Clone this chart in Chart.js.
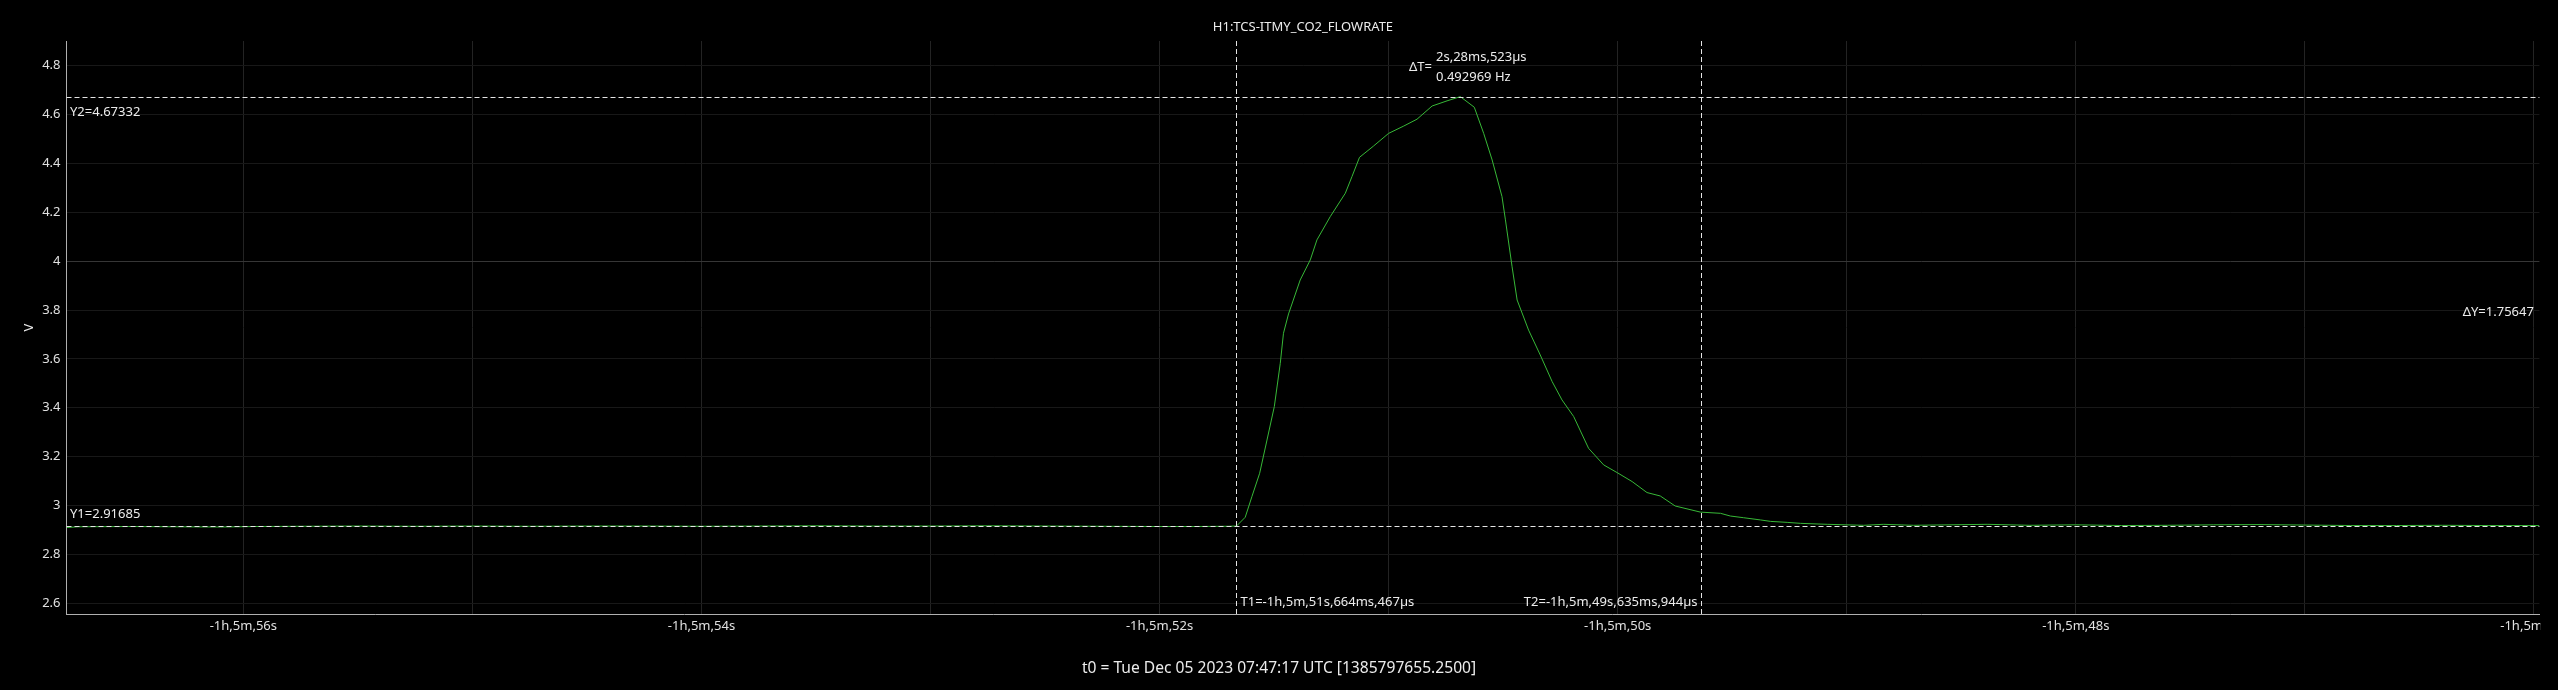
<!DOCTYPE html>
<html>
<head>
<meta charset="utf-8">
<script src="https://cdn.jsdelivr.net/npm/chart.js@4.4.0/dist/chart.umd.min.js"></script>
<style>
    html, body { margin: 0; padding: 0; background: #000; }
    #wrap { width: 2558px; height: 690px; }
</style>
</head>
<body>
<div id="wrap"><canvas id="flowrate"></canvas></div>
<script>
const channel = 'H1:TCS-ITMY_CO2_FLOWRATE';
const footer = 't0 = Tue Dec 05 2023 07:47:17 UTC [1385797655.2500]';
const yUnit = 'V';

// seconds after -1h,5m (so -56 means -1h,5m,56s)
const times = [
    -56.77, -56.72, -56.50, -56.30, -56.10, -55.95, -55.75, -55.50, -55.25, -55.00,
    -54.75, -54.50, -54.25, -54.00, -53.75, -53.50, -53.25, -53.00, -52.75, -52.50,
    -52.25, -52.00, -51.85, -51.70, -51.664, -51.626, -51.597, -51.563, -51.531, -51.499,
    -51.473, -51.459, -51.437, -51.386, -51.342, -51.313, -51.255, -51.189, -51.160, -51.127,
    -51.066, -51.000, -50.934, -50.876, -50.810, -50.745, -50.687, -50.626, -50.585, -50.548,
    -50.505, -50.490, -50.461, -50.439, -50.389, -50.338, -50.286, -50.243, -50.192, -50.127,
    -50.061, -50.003, -49.937, -49.872, -49.814, -49.749, -49.639, -49.551, -49.508, -49.450,
    -49.377, -49.332, -49.260, -49.202, -49.085, -48.926, -48.840, -48.709, -48.387, -48.200,
    -48.000, -47.800, -47.600, -47.400, -47.200, -47.000, -46.800, -46.600, -46.400, -46.200,
    -45.976
];
const values = [
    2.910, 2.913, 2.914, 2.913, 2.912, 2.914, 2.915, 2.916, 2.915, 2.916,
    2.915, 2.916, 2.916, 2.915, 2.916, 2.917, 2.916, 2.916, 2.917, 2.916,
    2.915, 2.914, 2.914, 2.915, 2.916, 2.952, 3.036, 3.132, 3.268, 3.405,
    3.582, 3.705, 3.784, 3.923, 4.005, 4.087, 4.182, 4.278, 4.346, 4.425,
    4.471, 4.523, 4.553, 4.581, 4.635, 4.656, 4.6733, 4.630, 4.523, 4.414,
    4.264, 4.169, 3.977, 3.841, 3.718, 3.616, 3.507, 3.432, 3.364, 3.234,
    3.166, 3.135, 3.098, 3.053, 3.039, 2.998, 2.973, 2.968, 2.957, 2.950,
    2.941, 2.935, 2.931, 2.927, 2.923, 2.919, 2.923, 2.919, 2.923, 2.919,
    2.921, 2.918, 2.919, 2.921, 2.922, 2.920, 2.918, 2.918, 2.919, 2.918,
    2.918
];

const xRange = [-56.772, -45.976];
const yRange = [2.556, 4.901];

// cursors
const t1 = -51.664467;
const t2 = -49.635944;
const y1 = 2.91685;
const y2 = 4.67332;
const t1Label = 'T1=-1h,5m,51s,664ms,467µs';
const t2Label = 'T2=-1h,5m,49s,635ms,944µs';
const y1Label = 'Y1=2.91685';
const y2Label = 'Y2=4.67332';
const dyLabel = 'ΔY=1.75647';
const dtLabel = ['2s,28ms,523µs', '0.492969 Hz'];

const font13 = "13px 'Noto Sans', sans-serif";

const cursors = {
    id: 'cursors',
    beforeDraw: (chart) => {
        const ctx = chart.ctx;
        ctx.save();
        ctx.fillStyle = '#000';
        ctx.fillRect(0, 0, chart.width, chart.height);
        ctx.restore();
    },
    afterDraw: (chart) => {
        const ctx = chart.ctx;
        const area = chart.chartArea;
        const sx = chart.scales.x;
        const sy = chart.scales.y;

        ctx.save();
        // tick labels are cut at the plot edge
        ctx.fillStyle = '#000';
        ctx.fillRect(area.right + 1, area.bottom + 1, chart.width - area.right, 40);

        const px1 = Math.round(sx.getPixelForValue(t1)) + 0.5;
        const px2 = Math.round(sx.getPixelForValue(t2)) + 0.5;
        const py1 = Math.round(sy.getPixelForValue(y1)) + 0.5;
        const py2 = Math.round(sy.getPixelForValue(y2)) + 0.5;

        ctx.strokeStyle = '#e4e4e4';
        ctx.lineWidth = 1;
        ctx.setLineDash([5, 3]);
        ctx.beginPath();
        ctx.moveTo(px1, area.top); ctx.lineTo(px1, area.bottom);
        ctx.moveTo(px2, area.top); ctx.lineTo(px2, area.bottom);
        ctx.moveTo(area.left, py1); ctx.lineTo(area.right, py1);
        ctx.moveTo(area.left, py2); ctx.lineTo(area.right, py2);
        ctx.stroke();
        ctx.setLineDash([]);

        ctx.fillStyle = '#ececec';
        ctx.font = font13;
        ctx.textBaseline = 'middle';

        ctx.textAlign = 'left';
        ctx.fillText(t1Label, px1 + 4, area.bottom - 12);
        ctx.fillText(y2Label, area.left + 3.5, py2 + 14.5);
        ctx.fillText(y1Label, area.left + 3.5, py1 - 12.5);
        const mid = (px1 + px2) / 2;
        ctx.fillText(dtLabel[0], mid - 33, area.top + 16.5);
        ctx.fillText(dtLabel[1], mid - 33, area.top + 36.5);

        ctx.textAlign = 'right';
        ctx.fillText(t2Label, px2 - 4, area.bottom - 12);
        ctx.fillText('ΔT=', mid - 37, area.top + 26.5);
        ctx.fillText(dyLabel, area.right - 5.5, (py1 + py2) / 2);

        ctx.textAlign = 'center';
        ctx.fillText(channel, (area.left + area.right) / 2, 27.5);
        ctx.font = "15.6px 'Noto Sans', sans-serif";
        ctx.fillText(footer, chart.width / 2, 669);

        ctx.font = font13;
        ctx.translate(29, (area.top + area.bottom) / 2);
        ctx.rotate(-Math.PI / 2);
        ctx.fillText(yUnit, 0, 0);
        ctx.restore();
    }
};

Chart.defaults.font.family = "'Noto Sans', sans-serif";
Chart.defaults.font.size = 13;
Chart.defaults.color = '#e0e0e0';

const grafico = new Chart(document.getElementById('flowrate'), {
    type: 'line',
    data: {
        datasets: [
            {
                label: channel,
                data: times.map((t, i) => ({ x: t, y: values[i] })),
                borderColor: '#37b837',
                borderWidth: 1,
                pointRadius: 0,
                tension: 0,
                fill: false,
            }
        ]
    },
    options: {
        responsive: true,
        maintainAspectRatio: false,
        devicePixelRatio: 1,
        animation: false,
        layout: { padding: { top: 41, right: 18.6, left: 0, bottom: 0 } },
        plugins: {
            legend: { display: false },
            tooltip: { enabled: false },
        },
        scales: {
            x: {
                type: 'linear',
                min: xRange[0],
                max: xRange[1],
                border: { color: '#b0b0b0' },
                grid: { color: '#232323', drawTicks: false },
                ticks: {
                    stepSize: 1,
                    includeBounds: false,
                    autoSkip: false,
                    maxRotation: 0,
                    padding: 4,
                    callback: (v) => {
                        const s = Math.round(v);
                        return s % 2 === 0 ? '-1h,5m,' + Math.abs(s) + 's' : '';
                    }
                },
                afterFit: (s) => {
                    s.height = 76;
                    s.paddingLeft = 0;
                    s.paddingRight = 0;
                }
            },
            y: {
                type: 'linear',
                min: yRange[0],
                max: yRange[1],
                border: { color: '#b0b0b0' },
                grid: {
                    color: (c) => (c.tick && Math.abs(c.tick.value - 4) < 1e-6 ? '#363636' : '#181818'),
                    drawTicks: false
                },
                ticks: {
                    stepSize: 0.2,
                    includeBounds: false,
                    padding: 6,
                    callback: (v) => String(Math.round(v * 10) / 10)
                },
                afterFit: (s) => {
                    s.width = 66.5;
                    s.paddingTop = 0;
                    s.paddingBottom = 0;
                }
            }
        }
    },
    plugins: [cursors]
});
</script>
</body>
</html>
